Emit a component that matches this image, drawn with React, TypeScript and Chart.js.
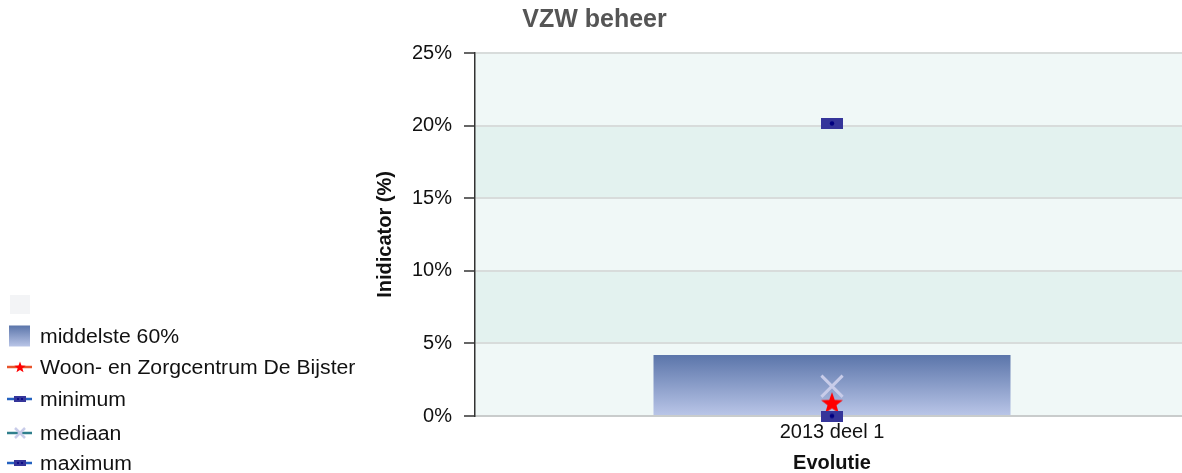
import React, { useEffect, useRef } from 'react';
import { Chart, registerables } from 'chart.js';

Chart.register(...registerables);

// ---- data ----
const categories: string[] = ['2013 deel 1'];
const middle60Low: number[] = [0];
const middle60High: number[] = [4.2];
const facilityValues: number[] = [0.85];
const minimumValues: number[] = [0];
const medianValues: number[] = [2.05];
const maximumValues: number[] = [20.15];
const yTickValues: number[] = [0, 5, 10, 15, 20, 25];

const chartTitle = 'VZW beheer';
const xTitle = 'Evolutie';
const yTitle = 'Inidicator (%)';
const labelMiddle = 'middelste 60%';
const labelFacility = 'Woon- en Zorgcentrum De Bijster';
const labelMin = 'minimum';
const labelMedian = 'mediaan';
const labelMax = 'maximum';

const FONT = '"Liberation Sans", Arial, Helvetica, sans-serif';

function makeRectMarker(): HTMLCanvasElement {
  const c = document.createElement('canvas');
  c.width = 22;
  c.height = 11;
  const g = c.getContext('2d')!;
  g.fillStyle = '#35359a';
  g.fillRect(0, 0, 22, 11);
  g.fillStyle = '#000080';
  g.beginPath();
  g.arc(11, 5.5, 2.2, 0, Math.PI * 2);
  g.fill();
  return c;
}

function starPts(cx: number, cy: number, R: number, r: number): [number, number][] {
  const pts: [number, number][] = [];
  for (let i = 0; i < 10; i++) {
    const a = -Math.PI / 2 + (i * Math.PI) / 5;
    const rad = i % 2 === 0 ? R : r;
    pts.push([cx + rad * Math.cos(a), cy + rad * Math.sin(a)]);
  }
  return pts;
}

function makeStarMarker(): HTMLCanvasElement {
  const c = document.createElement('canvas');
  c.width = 24;
  c.height = 24;
  const g = c.getContext('2d')!;
  const pts = starPts(12, 12, 11.5, 4.7);
  g.fillStyle = '#ff0000';
  g.beginPath();
  pts.forEach(([x, y], i) => (i === 0 ? g.moveTo(x, y) : g.lineTo(x, y)));
  g.closePath();
  g.fill();
  return c;
}

const bandPlugin = {
  id: 'bands',
  beforeDraw(chart: any) {
    const { ctx, chartArea, scales } = chart;
    const y = scales.y;
    if (!chartArea || !y) return;
    ctx.save();
    for (let i = 0; i < yTickValues.length - 1; i++) {
      const top = y.getPixelForValue(yTickValues[i + 1]);
      const bot = y.getPixelForValue(yTickValues[i]);
      ctx.fillStyle = i % 2 === 0 ? '#f0f8f7' : '#e3f2ef';
      ctx.fillRect(chartArea.left, top, chartArea.right - chartArea.left, bot - top);
    }
    ctx.restore();
  },
};

function LegendIcon({ kind }: { kind: string }) {
  if (kind === 'blank') {
    return (
      <svg width="26" height="22">
        <rect x="4" y="1" width="20" height="19" fill="#f3f4f6" />
      </svg>
    );
  }
  if (kind === 'box') {
    return (
      <svg width="26" height="22">
        <defs>
          <linearGradient id="lg" x1="0" y1="0" x2="0" y2="1">
            <stop offset="0" stopColor="#5b75aa" />
            <stop offset="1" stopColor="#b9c5e7" />
          </linearGradient>
        </defs>
        <rect x="3" y="0.5" width="21" height="21" fill="url(#lg)" />
      </svg>
    );
  }
  const lineColor = kind === 'star' ? '#e8552c' : kind === 'x' ? '#2f7f8c' : '#2462c0';
  const pts = starPts(14, 11.5, 6, 2.5).map((p) => p.join(',')).join(' ');
  return (
    <svg width="26" height="22">
      <line x1="1" y1="11" x2="26" y2="11" stroke={lineColor} strokeWidth="2.5" />
      {kind === 'star' && <polygon points={pts} fill="#ff0000" />}
      {kind === 'rect' && (
        <g>
          <rect x="8" y="8" width="12" height="6" fill="#35359a" />
          <circle cx="12" cy="11" r="1" fill="#000080" />
          <circle cx="16" cy="11" r="1" fill="#000080" />
        </g>
      )}
      {kind === 'x' && (
        <g stroke="#c8cce9" strokeWidth="2.5">
          <line x1="9" y1="6" x2="19" y2="16" />
          <line x1="19" y1="6" x2="9" y2="16" />
        </g>
      )}
    </svg>
  );
}

const legendRows: { kind: string; label: string; center: number }[] = [
  { kind: 'blank', label: '', center: 305 },
  { kind: 'box', label: labelMiddle, center: 336 },
  { kind: 'star', label: labelFacility, center: 367 },
  { kind: 'rect', label: labelMin, center: 399 },
  { kind: 'x', label: labelMedian, center: 433 },
  { kind: 'rect', label: labelMax, center: 463 },
];

export default function App() {
  const ref = useRef<HTMLCanvasElement>(null);

  useEffect(() => {
    const canvas = ref.current;
    if (!canvas) return;
    const rectMarker = makeRectMarker();
    const starMarker = makeStarMarker();

    const chart = new Chart(canvas, {
      type: 'bar',
      data: {
        labels: categories,
        datasets: [
          {
            type: 'bar',
            label: labelMiddle,
            data: middle60Low.map((lo, i) => [lo, middle60High[i]]) as any,
            backgroundColor: (c: any) => {
              const ch = c.chart;
              const raw = c.raw as number[] | undefined;
              if (!ch.chartArea || !raw) return '#8a9ccc';
              const y = ch.scales.y;
              const top = y.getPixelForValue(raw[1]);
              const bot = y.getPixelForValue(raw[0]);
              const g = ch.ctx.createLinearGradient(0, top, 0, bot);
              g.addColorStop(0, '#5b75aa');
              g.addColorStop(1, '#bac6e8');
              return g;
            },
            borderWidth: 0,
            barPercentage: 0.5,
            categoryPercentage: 1,
            order: 10,
          } as any,
          {
            type: 'line',
            label: labelFacility,
            data: facilityValues,
            showLine: false,
            pointStyle: starMarker,
            pointRadius: 11,
            clip: false,
            order: 3,
          } as any,
          {
            type: 'line',
            label: labelMedian,
            data: medianValues,
            showLine: false,
            pointStyle: 'crossRot',
            pointRadius: 15,
            pointBorderWidth: 3,
            pointBorderColor: '#c8cce9',
            pointBackgroundColor: '#c8cce9',
            clip: false,
            order: 2,
          } as any,
          {
            type: 'line',
            label: labelMin,
            data: minimumValues,
            showLine: false,
            pointStyle: rectMarker,
            pointRadius: 11,
            clip: false,
            order: 1,
          } as any,
          {
            type: 'line',
            label: labelMax,
            data: maximumValues,
            showLine: false,
            pointStyle: rectMarker,
            pointRadius: 11,
            clip: false,
            order: 0,
          } as any,
        ],
      },
      options: {
        animation: false,
        responsive: true,
        maintainAspectRatio: false,
        layout: { padding: 0, autoPadding: false },
        plugins: {
          legend: { display: false },
          tooltip: { enabled: false },
          title: {
            display: true,
            text: chartTitle,
            color: '#555555',
            font: { family: FONT, size: 25, weight: 'bold', lineHeight: 1.2 },
            padding: { top: 5, bottom: 18 },
          },
        },
        scales: {
          x: {
            type: 'category',
            offset: true,
            grid: { display: false, drawTicks: false },
            border: { display: true, color: '#c9cccc', width: 2 },
            ticks: {
              color: '#111',
              font: { family: FONT, size: 20 },
              padding: 4,
            },
            title: {
              display: true,
              text: xTitle,
              color: '#111',
              font: { family: FONT, size: 20, weight: 'bold', lineHeight: 1 },
              padding: { top: 0, bottom: 0 },
            },
            afterFit: (s: any) => {
              s.height = 57;
              s.paddingLeft = 0;
              s.paddingRight = 0;
            },
          },
          y: {
            min: 0,
            max: 25,
            afterBuildTicks: (s: any) => {
              s.ticks = yTickValues.map((v) => ({ value: v }));
            },
            grid: {
              color: '#d8dcdb',
              lineWidth: 2,
              drawTicks: true,
              tickLength: 11,
              tickColor: '#333',
              tickWidth: 1.5,
            },
            border: { display: true, color: '#333', width: 1.5 },
            ticks: {
              color: '#111',
              font: { family: FONT, size: 20 },
              padding: 12,
              callback: (v: any) => `${v}%`,
            },
            title: {
              display: true,
              text: yTitle,
              color: '#111',
              font: { family: FONT, size: 20, weight: 'bold', lineHeight: 1 },
              padding: { top: 375, bottom: 0 },
            },
            afterFit: (s: any) => {
              s.width = 475;
            },
          },
        },
      } as any,
      plugins: [bandPlugin],
    });
    return () => chart.destroy();
  }, []);

  return (
    <div
      style={{
        position: 'absolute',
        left: 0,
        top: 0,
        width: 1182,
        height: 473,
        overflow: 'hidden',
        background: '#fff',
        fontFamily: FONT,
      }}
    >
      <div style={{ position: 'absolute', left: 0, top: 0, width: 1189, height: 473 }}>
        <canvas ref={ref} />
      </div>
      {legendRows.map((r, i) => (
        <div
          key={i}
          style={{
            position: 'absolute',
            left: 6,
            top: r.center - 11,
            height: 22,
            display: 'flex',
            alignItems: 'center',
            whiteSpace: 'nowrap',
          }}
        >
          <LegendIcon kind={r.kind} />
          {r.label && (
            <span
              style={{
                marginLeft: 8,
                fontSize: 20,
                color: '#111',
                lineHeight: '22px',
                display: 'inline-block',
                transform: 'scaleX(1.06)',
                transformOrigin: 'left center',
              }}
            >
              {r.label}
            </span>
          )}
        </div>
      ))}
    </div>
  );
}
